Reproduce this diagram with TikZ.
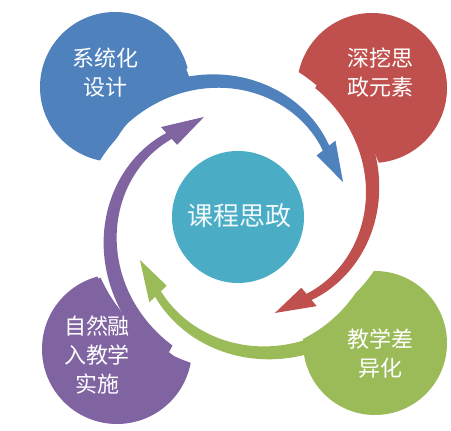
\documentclass[tikz,border=0pt]{standalone}
\usepackage{fontspec}
\newfontfamily\cjk{Noto Sans CJK SC}
\definecolor{cblue}{HTML}{4F81BD}
\definecolor{cred}{HTML}{C0504D}
\definecolor{cgreen}{HTML}{9BBB59}
\definecolor{cpurple}{HTML}{8064A2}
\definecolor{cteal}{HTML}{4BACC6}
% arrow: colour, head-back angle, head-back radius, tip angle, tip radius
\newcommand\spiralarrow[5]{%
  \fill[#1] plot[domain=0:110, samples=60] ({#2+110-\x}:{#3+4+0.495*(110-\x)})
    -- (#2:{#3+12}) -- (#4:#5) -- (#2:{#3-12})
    -- plot[domain=0:110, samples=60] ({#2+\x}:{#3-4+0.405*\x}) -- cycle;}
% white gap: head-back angle, head-back radius, from angle, to angle, offset
\newcommand\whitegap[5]{%
  \fill[white] (0,0) -- plot[domain=#3:#4, samples=80]
    (\x:{min(156,max(#2+#5,#2+#5-8+0.495*(\x-(#1))))}) -- cycle;}
\begin{document}
\begin{tikzpicture}[x=1pt,y=1pt,
  bubble/.style={circle, inner sep=0pt, minimum size=150pt},
  lbl/.style={font=\cjk\fontsize{22}{29}\selectfont, text=white, align=center, inner sep=0pt},
  corelbl/.style={font=\cjk\fontsize{26}{30}\selectfont, text=white!92!cteal, inner sep=0pt}]
\useasboundingbox (0,0) rectangle (451,431);
\fill[white] (0,0) rectangle (451,431);
\node[bubble, fill=cblue] (nb) at (115,344) {};
\node[bubble, fill=cred] (nr) at (372,343) {};
\node[bubble, fill=cpurple] (np) at (117,82) {};
\node[bubble, fill=cgreen, minimum size=144pt] (ng) at (375,88) {};
\begin{scope}[shift={(241,216)}]
  \whitegap{38.2}{108.2}{17.6}{110.5}{39}
  \whitegap{132.3}{106.9}{110}{204}{39}
  \whitegap{223.6}{114.6}{203.5}{289.1}{39}
  \whitegap{-50.3}{106.5}{-71.2}{18.2}{32}
\end{scope}
\node[circle, fill=cteal, inner sep=0pt, minimum size=132pt] (core) at (238,214) {};
\begin{scope}[shift={(241,216)}]
  \spiralarrow{cblue}{38.2}{108.2}{17.9}{107.2}
  \spiralarrow{cred}{-50.3}{106.5}{-70.9}{103.7}
  \spiralarrow{cgreen}{223.6}{114.6}{204}{110.6}
  \spiralarrow{cpurple}{132.3}{106.9}{110.7}{104.8}
\end{scope}
\node[corelbl] (tcore) at (239.5,215) {课程思政};
\node[lbl] (tb) at (106,358) {系统化\\设计};
\node[lbl] (tr) at (380,358) {深挖思\\政元素};
\node[lbl] (tp) at (97,76) {自然融\\入教学\\实施};
\node[lbl] (tg) at (380,77) {教学差\\异化};
\end{tikzpicture}
\end{document}
